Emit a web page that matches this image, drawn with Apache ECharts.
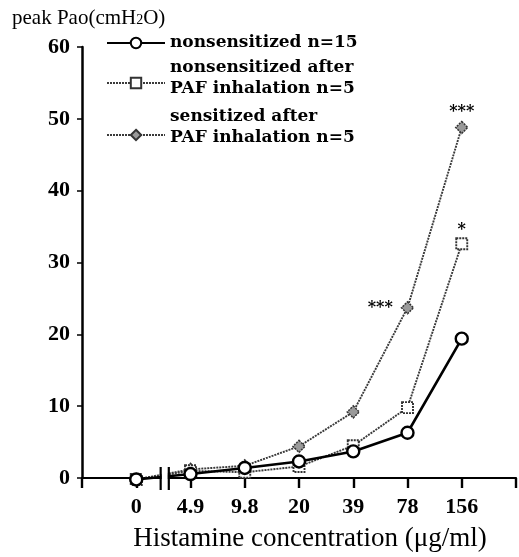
<!DOCTYPE html>
<html>
<head>
<meta charset="utf-8">
<script src="https://cdn.jsdelivr.net/npm/echarts@6/dist/echarts.min.js"></script>
<style>html,body{margin:0;padding:0;background:#fff}#c{width:519px;height:557px}</style>
</head>
<body>
<div id="c"></div>
<script>
// ---- data ----
var categories = ['0', '4.9', '9.8', '20', '39', '78', '156'];
var nonsensitized = [-0.2, 0.55, 1.4, 2.3, 3.7, 6.3, 19.4];
var nonsensitizedPAF = [-0.2, 1.0, 0.8, 1.6, 4.5, 9.8, 32.6];
var sensitizedPAF = [-0.2, 1.2, 1.7, 4.4, 9.2, 23.7, 48.8];
var sigNonsensPAF = ['', '', '', '', '', '', '*'];
var sigSensPAF = ['', '', '', '', '', '***', '***'];
var yTicks = [0, 10, 20, 30, 40, 50, 60];
var seriesNames = ['nonsensitized n=15', 'nonsensitized after\nPAF inhalation n=5', 'sensitized after\nPAF inhalation n=5'];
var axisBreak = [0.45, 0.6];

var serif = 'Liberation Serif';
var legendFont = 'DejaVu Serif';
function pts(arr, sig, posFn, distFn) {
  return arr.map(function (v, i) {
    var item = { value: [i, v] };
    if (sig && sig[i]) {
      item.label = { show: true, formatter: sig[i], position: posFn(i), distance: distFn(i),
        fontFamily: legendFont, fontWeight: 'bold', fontSize: 16, color: '#000' };
    }
    return item;
  });
}
var grayLine = { color: '#3a3a3a', width: 1.9, type: [2, 1] };

function legendAt(idx, top, gap) {
  return {
    orient: 'vertical', left: 106, top: top, padding: 0,
    itemWidth: 58, itemHeight: 13,
    formatter: function (name) { return gap ? name + '\n{g| }' : name; },
    textStyle: { fontFamily: legendFont, fontWeight: 'bold', fontSize: 17, lineHeight: 21,
      color: '#000', rich: { g: { fontSize: 4, lineHeight: gap || 1 } } },
    data: [seriesNames[idx]]
  };
}

var chart = echarts.init(document.getElementById('c'));
chart.setOption({
  animation: false,
  backgroundColor: '#fff',
  title: {
    text: 'peak Pao(cmH{s|2}O)', left: 12, top: 8, padding: 0,
    textStyle: { fontFamily: serif, fontWeight: 'normal', fontSize: 21, color: '#000',
      rich: { s: { fontFamily: serif, fontSize: 14, color: '#000', padding: [4, 0, 0, 0] } } }
  },
  legend: [legendAt(0, 32.5, 0), legendAt(1, 57.5, 9), legendAt(2, 106, 16)],
  grid: { left: 82, right: 2, top: 47, bottom: 74 },
  xAxis: {
    type: 'value', min: -1, max: 7, interval: 1,
    axisLine: { lineStyle: { color: '#000', width: 2.2 } },
    axisTick: { length: 10, lineStyle: { color: '#000', width: 2.4 } },
    splitLine: { show: false },
    axisLabel: { margin: 18, fontFamily: serif, fontWeight: 'bold', fontSize: 22, color: '#000',
      formatter: function (v) { return categories[v] !== undefined ? categories[v] : ''; } },
    name: 'Histamine concentration (μg/ml)', nameLocation: 'middle', nameGap: 47,
    nameTextStyle: { fontFamily: serif, fontSize: 27, color: '#000', padding: [0, 0, 0, 22] }
  },
  yAxis: {
    type: 'value', min: 0, max: 60, interval: 10,
    axisLine: { show: true, onZero: false, lineStyle: { color: '#000', width: 2.5 } },
    axisTick: { show: true, length: 5, lineStyle: { color: '#000', width: 1.5 } },
    splitLine: { show: false },
    axisLabel: { margin: 12, fontFamily: serif, fontWeight: 'bold', fontSize: 22, color: '#000',
      formatter: function (v) { return yTicks.indexOf(v) >= 0 ? String(v) : ''; } }
  },
  series: [
    {
      name: seriesNames[2], type: 'line', clip: false, z: 2,
      data: pts(sensitizedPAF, sigSensPAF,
        function (i) { return i === 5 ? 'left' : 'top'; },
        function (i) { return i === 5 ? 8 : 1; }),
      symbol: 'diamond', symbolSize: 12,
      lineStyle: grayLine,
      itemStyle: { color: '#9a9a9a', borderColor: '#333', borderWidth: 1.5, borderType: [2, 1] }
    },
    {
      name: seriesNames[1], type: 'line', clip: false, z: 3,
      data: pts(nonsensitizedPAF, sigNonsensPAF,
        function () { return 'top'; }, function () { return 0; }),
      symbol: 'rect', symbolSize: 11,
      lineStyle: grayLine,
      itemStyle: { color: '#fff', borderColor: '#333', borderWidth: 1.9, borderType: [2, 1] }
    },
    {
      name: seriesNames[0], type: 'line', clip: false, z: 4,
      data: pts(nonsensitized),
      symbol: 'circle', symbolSize: 12,
      lineStyle: { color: '#000', width: 2.6 },
      itemStyle: { color: '#fff', borderColor: '#000', borderWidth: 2.4 }
    },
    {
      type: 'custom', z: 10, silent: true, clip: false,
      data: [[axisBreak[0], axisBreak[1]]],
      renderItem: function (params, api) {
        var a = api.coord([api.value(0), 0]);
        var b = api.coord([api.value(1), 0]);
        return {
          type: 'group',
          children: [
            { type: 'rect', shape: { x: a[0] + 1, y: a[1] - 14, width: b[0] - a[0] - 2, height: 26 }, style: { fill: '#fff' } },
            { type: 'line', shape: { x1: a[0], y1: a[1] - 11, x2: a[0], y2: a[1] + 12 }, style: { stroke: '#000', lineWidth: 2.2 } },
            { type: 'line', shape: { x1: b[0], y1: b[1] - 11, x2: b[0], y2: b[1] + 12 }, style: { stroke: '#000', lineWidth: 2.2 } }
          ]
        };
      }
    }
  ]
});
</script>
</body>
</html>
